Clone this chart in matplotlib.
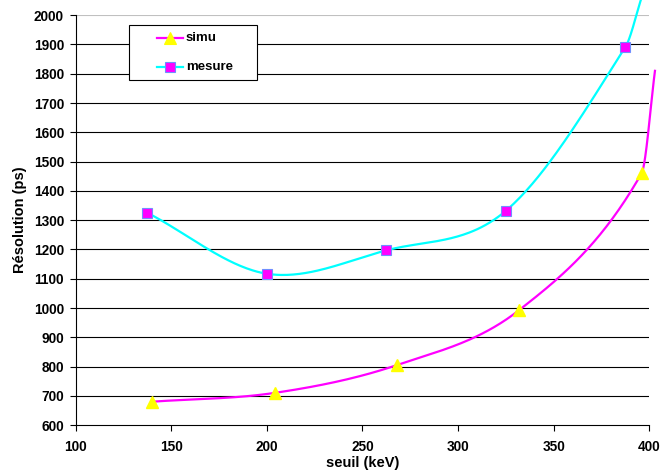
import matplotlib
matplotlib.use('Agg')
import matplotlib.pyplot as plt
import numpy as np
from matplotlib.patches import Rectangle
from matplotlib.lines import Line2D

plt.rcParams['font.family'] = ['Liberation Sans', 'DejaVu Sans']

# data
simu_x = [140, 204, 268, 332, 396]
simu_y = [680, 710, 805, 993, 1460]
mesure_x = [137.5, 200, 262.5, 325, 387.5]
mesure_y = [1325, 1117, 1197, 1332, 1891]
# where the drawn curves end, past the last marker
simu_end = (403, 1810)
mesure_end = (396, 2060)

xticks = [100, 150, 200, 250, 300, 350, 400]
yticks = list(range(600, 2001, 100))


def smooth(xs, ys, n=60):
    # cubic Hermite through the points, slopes from neighbours
    x = np.asarray(xs, float)
    y = np.asarray(ys, float)
    m = np.empty_like(y)
    m[1:-1] = (y[2:] - y[:-2]) / (x[2:] - x[:-2])
    m[0] = (y[1] - y[0]) / (x[1] - x[0])
    m[-1] = (y[-1] - y[-2]) / (x[-1] - x[-2])
    xo, yo = [], []
    for i in range(len(x) - 1):
        h = x[i + 1] - x[i]
        t = np.linspace(0, 1, n)
        h00 = 2 * t**3 - 3 * t**2 + 1
        h10 = t**3 - 2 * t**2 + t
        h01 = -2 * t**3 + 3 * t**2
        h11 = t**3 - t**2
        yy = h00 * y[i] + h10 * h * m[i] + h01 * y[i + 1] + h11 * h * m[i + 1]
        xo.append(x[i] + t * h)
        yo.append(yy)
    return np.concatenate(xo), np.concatenate(yo)


fig = plt.figure(figsize=(6.7, 4.75), dpi=100)
ax = fig.add_axes([0.113, 0.105, 0.856, 0.863])

sx, sy = smooth(simu_x + [simu_end[0]], simu_y + [simu_end[1]])
mx, my = smooth(mesure_x + [mesure_end[0]], mesure_y + [mesure_end[1]])

ax.plot(sx, sy, color='#ff00ff', lw=1.6, clip_on=False, zorder=3)
ax.plot(mx, my, color='#00ffff', lw=1.6, clip_on=False, zorder=3)
ax.plot(simu_x, simu_y, ls='none', marker='^', ms=8, mfc='#ffff00',
        mec='#ffff00', zorder=4)
ax.plot(mesure_x, mesure_y, ls='none', marker='s', ms=7, mfc='#ff00ff',
        mec='#6f8fff', mew=0.8, zorder=4)

# legend drawn by hand (figure pixel coords -> fractions)
W, H = 670.0, 475.0
fx = lambda px: px / W
fy = lambda py: 1 - py / H
fig.patches.append(Rectangle((fx(129), fy(80)), fx(257) - fx(129),
                             fy(25) - fy(80), transform=fig.transFigure,
                             fill=True, facecolor='white', edgecolor='black',
                             lw=0.8, zorder=5))
entries = [('simu', 38, '#ff00ff', '^', '#ffff00', '#ffff00', 8),
           ('mesure', 67, '#00ffff', 's', '#ff00ff', '#6f8fff', 7)]
for label, py, lc, mk, mf, me, ms in entries:
    fig.add_artist(Line2D([fx(157), fx(183)], [fy(py), fy(py)],
                          transform=fig.transFigure, color=lc, lw=1.6,
                          zorder=6))
    fig.add_artist(Line2D([fx(170)], [fy(py)], transform=fig.transFigure,
                          ls='none', marker=mk, ms=ms, mfc=mf, mec=me,
                          mew=0.8, zorder=7))
    fig.text(fx(186), fy(py), label, fontsize=9.5, fontweight='bold',
             va='center', ha='left', zorder=7)

ax.set_xlim(100, 400)
ax.set_ylim(600, 2000)
ax.set_xticks(xticks)
ax.set_yticks(yticks)
for lab in ax.get_xticklabels() + ax.get_yticklabels():
    lab.set_fontweight('bold')
    lab.set_fontsize(9.8)

for y in yticks[1:-1]:
    ax.axhline(y, color='black', lw=0.8, zorder=1)
ax.axhline(2000, color='#c0c0c0', lw=0.8, zorder=1)

ax.spines['top'].set_visible(False)
ax.spines['right'].set_visible(False)
ax.tick_params(direction='out', length=4.5, width=0.8, pad=4)
ax.tick_params(axis='x', pad=6)

ax.set_xlabel('seuil (keV)', fontweight='bold', fontsize=10.5, labelpad=2)
ax.set_ylabel('Résolution (ps)', fontweight='bold', fontsize=10.5,
              labelpad=5)

fig.savefig('out.png', dpi=100)
